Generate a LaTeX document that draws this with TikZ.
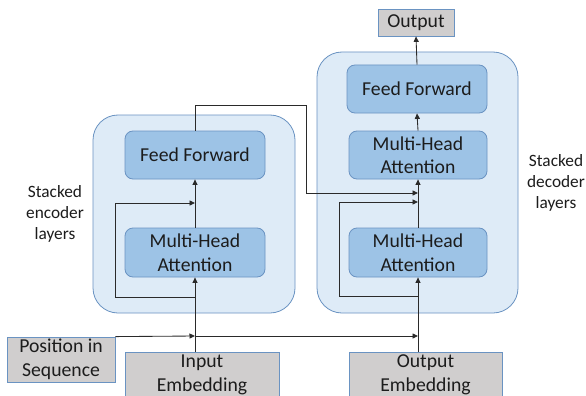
\documentclass[tikz,border=0pt]{standalone}
\usepackage{fontspec}
\setmainfont{Carlito}
\usetikzlibrary{arrows.meta,calc}
\definecolor{outerfill}{HTML}{DEEBF7}
\definecolor{bluebord}{HTML}{6A93C2}
\definecolor{innerfill}{HTML}{9DC3E6}
\definecolor{grayfill}{HTML}{D0CECE}
\definecolor{txt}{HTML}{1C1C1C}
\definecolor{linec}{HTML}{2A2A2A}
\tikzset{
  outerbox/.style={draw=bluebord, fill=outerfill, rounded corners=25pt, line width=0.8pt, inner sep=0pt},
  innerbox/.style={draw=bluebord, fill=innerfill, rounded corners=8pt, line width=0.8pt, minimum width=140pt, minimum height=48pt, inner sep=0pt, align=center, text=txt, font=\fontsize{19.7}{23.5}\selectfont},
  graybox/.style={draw=bluebord, fill=grayfill, line width=0.8pt, inner sep=0pt, align=center, text=txt, font=\fontsize{19.7}{23.5}\selectfont},
  lbl/.style={align=center, text=txt, font=\fontsize{17.3}{21}\selectfont},
  conn/.style={draw=linec, line width=0.85pt},
  arr/.style={conn, -{Triangle[length=5.5pt,width=5pt]}}
}
\begin{document}
\begin{tikzpicture}[x=1pt,y=-1pt]
\useasboundingbox[fill=white] (0,0) rectangle (586,396);
% outer boxes
\node[outerbox, minimum width=202pt, minimum height=198pt] (enc) at (194,214) {};
\node[outerbox, minimum width=201pt, minimum height=261pt] (dec) at (417.5,182.5) {};
% encoder
\node[innerbox] (encff) at (195,155) {Feed Forward};
\node[innerbox, minimum height=49pt] (encmha) at (195,252.5) {Multi-Head\\Attention};
% decoder
\node[innerbox] (decff) at (417,89) {Feed Forward};
\node[innerbox, minimum width=138pt] (decmhb) at (418,155) {Multi-Head\\Attention};
\node[innerbox, minimum width=138pt, minimum height=49pt] (decmha) at (418,252.5) {Multi-Head\\Attention};
% gray boxes
\node[graybox, minimum width=76pt, minimum height=27pt] (out) at (416,22.5) {Output};
\node[graybox, minimum width=108pt, minimum height=45pt] (pos) at (61,359.5) {Position in\\Sequence};
\node[graybox, minimum width=154pt, minimum height=46pt] (inemb) at (202,375) {Input\\Embedding};
\node[graybox, minimum width=153pt, minimum height=46pt] (outemb) at (425.5,375) {Output\\Embedding};
% labels
\node[lbl] (enclbl) at (55,214) {Stacked\\encoder\\layers};
\node[lbl] (declbl) at (556,183) {Stacked\\decoder\\layers};
% coordinates
\coordinate (ein) at (encmha.south |- inemb.north);
\coordinate (epos) at (encmha.south |- 0,336);
\coordinate (din) at (decmha.south |- outemb.north);
\coordinate (dpos) at (decmha.south |- 0,336);
\coordinate (eres0) at (encmha.south |- 0,297);
\coordinate (eresL) at (115,297);
\coordinate (eresT) at (115,203);
\coordinate (eres1) at (encmha.south |- 0,203);
\coordinate (dres0) at (decmha.south |- 0,296);
\coordinate (dresL) at (339,296);
\coordinate (dresT) at (339,202);
\coordinate (dres1) at (decmha.south |- 0,202);
\coordinate (etop) at (encff.north |- 0,105);
\coordinate (ecr1) at (306,105);
\coordinate (ecr2) at (306,193);
\coordinate (ecr3) at (decmha.south |- 0,193);
% encoder connectors
\draw[arr] (ein) -- (encmha.south);
\draw[conn] (eres0) -- (eresL) -- (eresT);
\draw[arr] (eresT) -- (eres1);
\draw[arr] (encmha.north) -- (encff.south);
\draw[conn] (encff.north) -- (etop) -- (ecr1) -- (ecr2);
\draw[arr] (ecr2) -- (ecr3);
% position
\draw[arr] (pos.north east) -- (epos);
\draw[arr] (epos) -- (dpos);
% decoder connectors
\draw[arr] (din) -- (decmha.south);
\draw[conn] (dres0) -- (dresL) -- (dresT);
\draw[arr] (dresT) -- (dres1);
\draw[arr] (decmha.north) -- (decmhb.south);
\draw[arr] (decmhb.north) -- (decff.south);
\draw[arr] (decff.north) -- (out.south);
\end{tikzpicture}
\end{document}
